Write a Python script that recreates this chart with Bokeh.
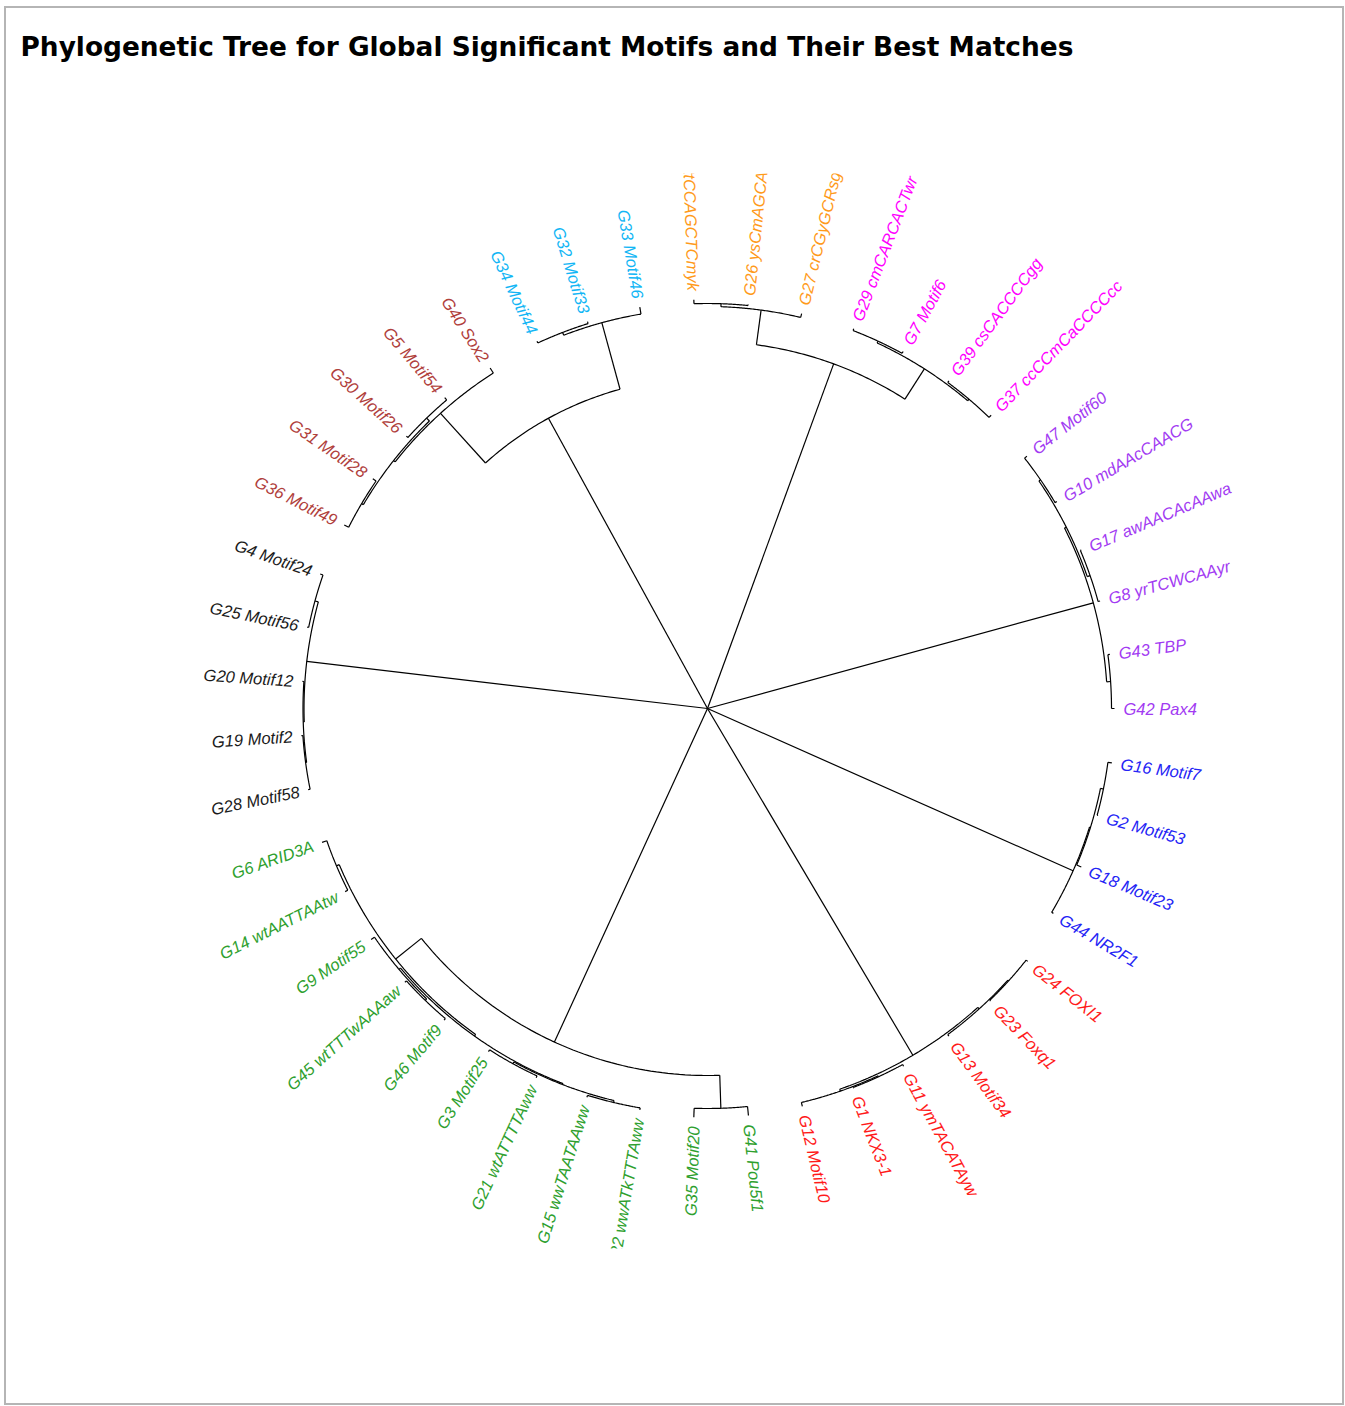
import numpy as np
from bokeh.plotting import figure
from bokeh.models import ColumnDataSource, Range1d, Title
from bokeh.embed import file_html
from bokeh.resources import INLINE

TITLE = "Phylogenetic Tree for Global Significant Motifs and Their Best Matches"

# ---- leaves, in order counter-clockwise starting at angle 0 ----
leaf_names = [
    "G42 Pax4", "G43 TBP", "G8 yrTCWCAAyr", "G17 awAACAcAAwa", "G10 mdAAcCAACG", "G47 Motif60",
    "G37 ccCCmCaCCCCcc", "G39 csCACCCCgg", "G7 Motif6", "G29 cmCARCACTwr",
    "G27 crCGyGCRsg", "G26 ysCmAGCA", "G38 ttCCAGCTCmyk",
    "G33 Motif46", "G32 Motif33", "G34 Motif44",
    "G40 Sox2", "G5 Motif54", "G30 Motif26", "G31 Motif28", "G36 Motif49",
    "G4 Motif24", "G25 Motif56", "G20 Motif12", "G19 Motif2", "G28 Motif58",
    "G6 ARID3A", "G14 wtAATTAAtw", "G9 Motif55", "G45 wtTTTwAAAaw", "G46 Motif9",
    "G3 Motif25", "G21 wtATTTTAww", "G15 wwTAATAAww", "G22 wwATkTTTAww",
    "G35 Motif20", "G41 Pou5f1",
    "G12 Motif10", "G1 NKX3-1", "G11 ymTACATAyw", "G13 Motif34", "G23 Foxq1", "G24 FOXI1",
    "G44 NR2F1", "G18 Motif23", "G2 Motif53", "G16 Motif7",
]
leaf_groups = (["purple"] * 6 + ["magenta"] * 4 + ["orange"] * 3 + ["cyan"] * 3 +
               ["brown"] * 5 + ["black"] * 5 + ["green"] * 11 + ["red"] * 6 + ["blue"] * 4)
leaf_parent = [
    "P1", "P1", "P3", "P3", "P4", "P4",
    "M2", "M2", "M1", "M1",
    "ORG", "O1", "O1",
    "CYN", "C1", "C1",
    "BRN", "BR2", "BR2", "BR3", "BR3",
    "K1", "K1", "K2", "K3", "K3",
    "GA", "GA", "GD", "GE", "GE", "GG", "GG", "GH", "GH", "GS", "GS",
    "R1", "R2", "R2", "R3", "R4", "R4",
    "BLU", "B1", "B2", "B2",
]
leaf_height = [
    407, 406, 407, 406, 406, 407,
    408, 407, 407, 407,
    406, 406, 409,
    407, 405, 405,
    404, 407, 406, 406, 407,
    410, 408.5, 406, 407, 407.5,
    408, 406, 408, 408, 408, 407, 407, 407, 407, 409, 409,
    409, 407, 408, 407, 407, 408,
    402, 406, 405, 408,
]

# ---- internal nodes ----
node_ids = ["root", "A", "B", "F", "PUR", "BLU", "RED", "BLK", "CYN", "BRN", "ORG", "MAG",
            "C1", "BR1", "BR2", "BR3", "O1", "M1", "M2", "P1", "P2", "P3", "P4", "B1", "B2",
            "R1", "R2", "R3", "R4", "K1", "K2", "K3", "GB", "GS", "GA", "GC", "GD", "GE",
            "GF", "GG", "GH"]
node_parent = [None, "root", "root", "root", "root", "root", "root", "root", "A", "A", "B", "B",
               "CYN", "BRN", "BR1", "BR1", "ORG", "MAG", "MAG", "PUR", "PUR", "P2", "P2", "BLU", "B1",
               "RED", "R1", "RED", "R3", "BLK", "BLK", "K2", "F", "F", "GB", "GB", "GC", "GD",
               "GC", "GF", "GF"]
node_height = [0, 331, 367, 367, 400, 400, 403, 403.5, 400, 398, 402, 403,
               403, 400, 404, 402, 405, 405, 405, 404, 402, 405, 404, 401, 404,
               405, 406, 405, 406, 407, 404.5, 405.5, 400, 400, 403, 402, 404, 406,
               403, 405, 405]

group_colors = {"purple": "#A23BF2", "magenta": "#FF00FF", "orange": "#FF9A1A", "cyan": "#12B6F5",
                "brown": "#B0403C", "black": "#1A1A1A", "green": "#2EA02E", "red": "#FF1A1A",
                "blue": "#2424F5"}

# ---- layout computation ----
n = len(leaf_names)
height = {}
parent = {}
angle = {}
children = {nid: [] for nid in node_ids}
for nid, par, h in zip(node_ids, node_parent, node_height):
    height[nid] = h
    parent[nid] = par
    if par is not None:
        children[par].append(nid)
for i, (name, par, h) in enumerate(zip(leaf_names, leaf_parent, leaf_height)):
    height[name] = h
    parent[name] = par
    children[par].append(name)
    angle[name] = 2 * np.pi * i / n


def node_angle(nid):
    if nid in angle:
        return angle[nid]
    a = [node_angle(c) for c in children[nid]]
    angle[nid] = (min(a) + max(a)) / 2
    return angle[nid]


node_angle("root")

xs, ys = [], []
# radial segments
for nid in list(node_ids[1:]) + leaf_names:
    r0 = height[parent[nid]]
    r1 = height[nid]
    t = angle[nid]
    xs.append([r0 * np.cos(t), r1 * np.cos(t)])
    ys.append([r0 * np.sin(t), r1 * np.sin(t)])
# arcs
for nid in node_ids[1:]:
    a = [angle[c] for c in children[nid]]
    tt = np.linspace(min(a), max(a), 60)
    r = height[nid]
    xs.append(list(r * np.cos(tt)))
    ys.append(list(r * np.sin(tt)))

p = figure(frame_width=1080, frame_height=1075,
           x_range=Range1d(-540, 540), y_range=Range1d(-540, 535),
           output_backend="svg", toolbar_location=None,
           x_axis_type=None, y_axis_type=None, title=None,
           min_border_left=161, min_border_right=95, min_border_top=165, min_border_bottom=155,
           styles={"border": "2px solid #b5b5b5", "margin-left": "4px", "margin-top": "6px"})
p.grid.visible = False
p.outline_line_color = None

spacer = Title(text=" ", text_font_size="2px", standoff=108)
p.add_layout(spacer, "above")
main_title = Title(text=TITLE, text_font="DejaVu Sans", text_font_style="bold",
                   text_font_size="26.4px", text_color="black", standoff=0, offset=-147)
p.add_layout(main_title, "above")

p.multi_line(xs=xs, ys=ys, line_color="black", line_width=1.2)

# labels
off = 9
lx, ly, la, lal, lt, lc = [], [], [], [], [], []
for name, grp in zip(leaf_names, leaf_groups):
    t = angle[name]
    r = height[name] + off
    lx.append(r * np.cos(t))
    ly.append(r * np.sin(t))
    deg = np.degrees(t)
    if 90 < deg < 270:
        la.append(t - np.pi)
        lal.append("right")
    else:
        la.append(t)
        lal.append("left")
    lt.append(name)
    lc.append(group_colors[grp])

src = ColumnDataSource(dict(x=lx, y=ly, angle=la, align=lal, text=lt, color=lc))
p.text(x="x", y="y", text="text", angle="angle", text_align="align", text_color="color",
       text_baseline="middle", text_font_size="16.5px", text_font_style="italic",
       text_font={"value": "Liberation Sans"}, source=src)

open("out.html", "w").write(file_html(p, INLINE))
